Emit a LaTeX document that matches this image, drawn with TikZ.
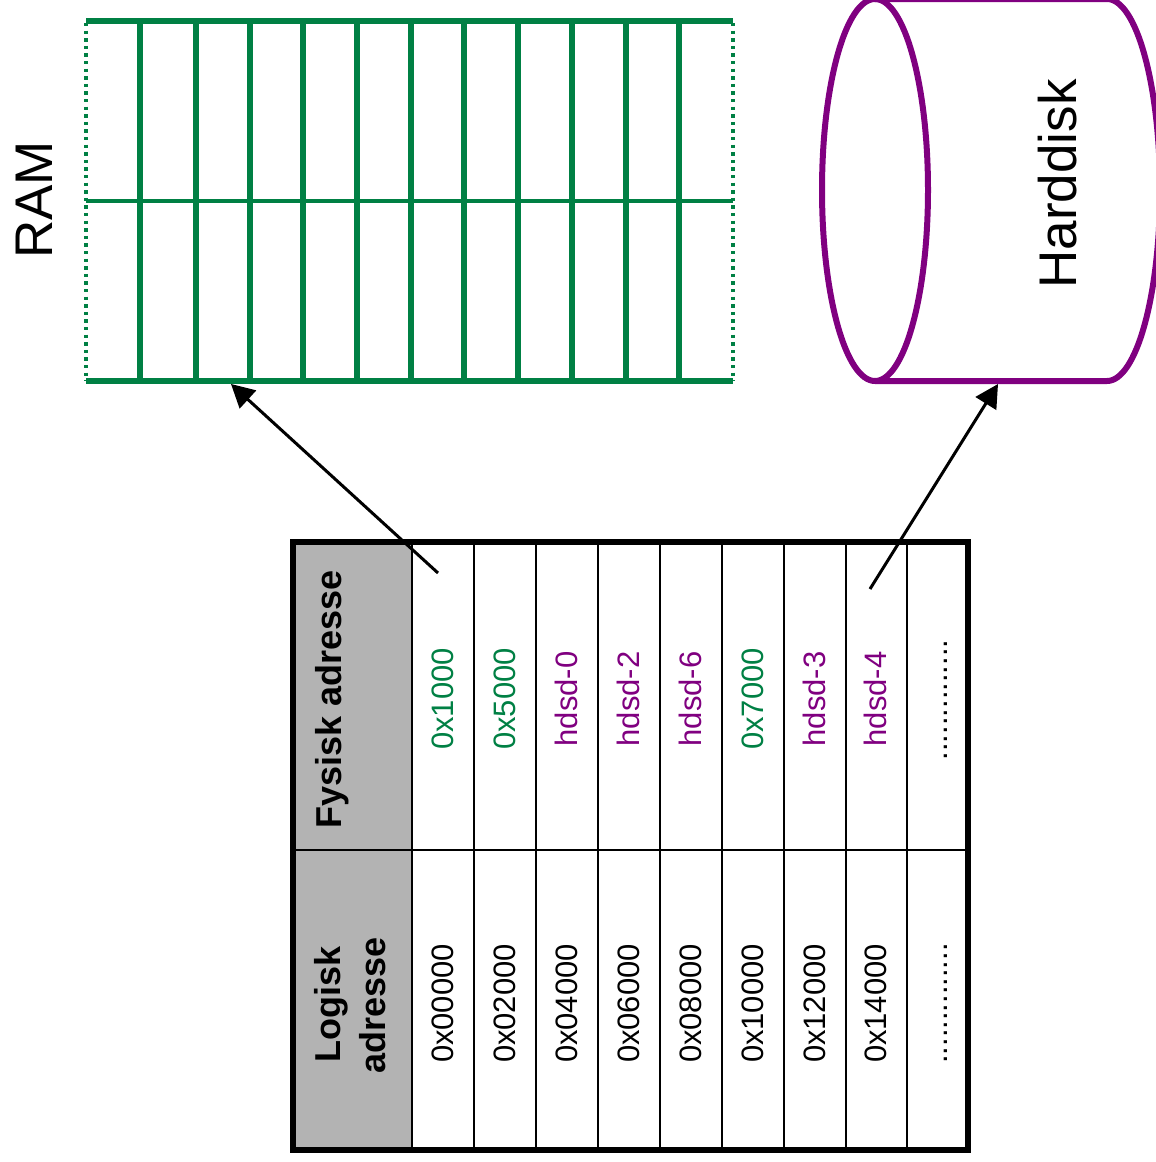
\documentclass[tikz,border=0pt]{standalone}
\usepackage{fontspec}
\setmainfont{Liberation Sans}
\usetikzlibrary{arrows.meta}
\definecolor{ramgreen}{RGB}{0,128,68}
\definecolor{diskpurple}{RGB}{128,0,128}
\definecolor{headgray}{RGB}{179,179,179}
\begin{document}
\begin{tikzpicture}[x=1pt,y=-1pt,
  biglabel/.style={font=\fontsize{53}{60}\selectfont, rotate=90, inner sep=0pt, anchor=base},
  headtext/.style={font=\bfseries\fontsize{36}{41}\selectfont, rotate=90, inner sep=0pt, anchor=base},
  celltext/.style={font=\fontsize{31}{36}\selectfont, rotate=90, inner sep=0pt, anchor=base},
  ramline/.style={draw=ramgreen, line width=5.5pt},
  ramedge/.style={draw=ramgreen, line width=3.6pt, dash pattern=on 3.4pt off 4.2pt},
  diskline/.style={draw=diskpurple, line width=6pt},
  gridline/.style={draw=black, line width=2.6pt},
  mapping/.style={draw=black, line width=3pt, -{Triangle[length=23pt, width=24pt]}}]
\useasboundingbox (0,0) rectangle (1156,1162);
\clip (0,0) rectangle (1156,1162);

% RAM: a strip of twelve frames in two rows
\node[biglabel] (ramlabel) at (52,200) {RAM};
\foreach \x in {140,196,250,303,357,411,464,518,572,626,679}
  \draw[ramline] (\x,21) -- (\x,381);
\draw[ramline] (86,21) -- (733,21);
\draw[ramline] (86,381) -- (733,381);
\draw[ramgreen, line width=3.5pt] (86,201) -- (733,201);
\draw[ramedge] (86,23) -- (86,381);
\draw[ramedge] (733,23) -- (733,381);
\coordinate (ramin) at (231,384);

% Hard disk drawn as a cylinder lying on its side
\draw[diskline, fill=white] (875,-1) -- (1107,-1)
  arc[start angle=-90, end angle=90, x radius=53, y radius=191]
  -- (875,381);
\draw[diskline] (875,190) ellipse[x radius=53, y radius=191];
\node[biglabel] (disklabel) at (1076,184) {Harddisk};
\coordinate (diskin) at (998,384);

% Page table
\fill[headgray] (293,542) rectangle (412,1150);
\foreach \x in {412,474,536,598,660,722,784,846,907}
  \draw[gridline] (\x,542) -- (\x,1150);
\draw[gridline] (293,850) -- (968,850);
\draw[black, line width=6pt] (293,542) rectangle (968,1150);

\node[headtext] (hphys) at (341,699) {Fysisk adresse};
\node[headtext] (hlog1) at (340,1004) {Logisk};
\node[headtext] (hlog2) at (385,1005) {adresse};

\foreach \cx/\txt/\col [count=\i] in
  {443/0x1000/ramgreen, 505/0x5000/ramgreen, 567/hdsd-0/diskpurple,
   629/hdsd-2/diskpurple, 691/hdsd-6/diskpurple, 753/0x7000/ramgreen,
   815/hdsd-3/diskpurple, 876/hdsd-4/diskpurple}
  \node[celltext, text=\col] (phys\i) at (\cx+10,699) {\txt};
\node[celltext] (phys9) at (947,700) {..............};

\foreach \cx/\txt [count=\i] in
  {443/0x00000, 505/0x02000, 567/0x04000, 629/0x06000, 691/0x08000,
   753/0x10000, 815/0x12000, 876/0x14000}
  \node[celltext] (log\i) at (\cx+10,1003.5) {\txt};
\node[celltext] (log9) at (947,1003.5) {..............};

% Mapping arrows from table entries to their storage
\coordinate (from1) at (438,573);
\coordinate (from8) at (870,589);
\draw[mapping] (from1) -- (ramin);
\draw[mapping] (from8) -- (diskin);
\end{tikzpicture}
\end{document}
